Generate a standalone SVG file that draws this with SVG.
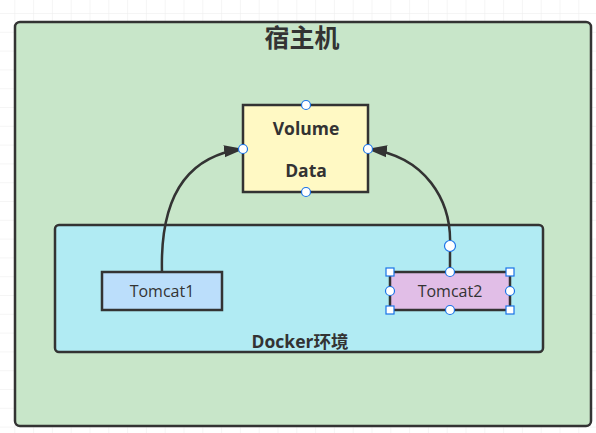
<svg xmlns="http://www.w3.org/2000/svg" width="596" height="433" viewBox="0 0 596 433">
<defs>
<pattern id="grid" x="14.3" y="13" width="18.8" height="18.8" patternUnits="userSpaceOnUse">
<path d="M0,0 H18.8 M0,0 V18.8" fill="none" stroke="#ececec" stroke-width="1"/>
</pattern>
<marker id="arr" viewBox="0 0 20 14" refX="19" refY="7" markerWidth="20" markerHeight="14" markerUnits="userSpaceOnUse" orient="auto">
<path d="M0,1 L20,7 L0,13 Z" fill="#333"/>
</marker>
</defs>
<style>
.box{stroke:#333;stroke-width:2.5}
.lbl{font-family:"Open Sans","Noto Sans CJK SC",sans-serif;fill:#333;text-anchor:middle}
.b{font-weight:bold}
.conn{fill:none;stroke:#333;stroke-width:2.5}
.hc{fill:#fff;stroke:#1a73e8;stroke-width:1.2}
</style>
<rect width="596" height="433" fill="#fff"/>
<rect width="596" height="433" fill="url(#grid)"/>
<g id="host">
<rect class="box" x="15" y="22" width="576" height="404" rx="5" fill="#C8E6C9" stroke-width="3"/>
<text class="lbl b" x="302" y="47" font-size="25">宿主机</text>
</g>
<g id="docker">
<rect class="box" x="55" y="225" width="488" height="127" rx="4" fill="#B1EBF3"/>
<text class="lbl b" x="300" y="348" font-size="17.5">Docker环境</text>
</g>
<g id="volume">
<rect class="box" x="243" y="105" width="125" height="87" fill="#FFF9C4"/>
<text class="lbl b" x="306" y="135" font-size="17.5">Volume</text>
<text class="lbl b" x="306" y="177" font-size="17.5">Data</text>
</g>
<g id="tomcat1">
<rect class="box" x="102" y="272" width="120" height="38" fill="#BBDEFB"/>
<text class="lbl" x="162" y="297" font-size="16">Tomcat1</text>
</g>
<g id="tomcat2">
<rect class="box" x="390" y="272" width="120" height="38" fill="#E1BEE7" stroke="#2d4a66"/>
<text class="lbl" x="450" y="297" font-size="16">Tomcat2</text>
</g>
<g id="connectors">
<path class="conn" d="M162,272 C160,200 185,156 243,149" marker-end="url(#arr)"/>
<path class="conn" d="M450,272 L450,246 C452,200 425,156 368,149" marker-end="url(#arr)"/>
</g>
<g id="handles">
<circle class="hc" cx="306" cy="105" r="4.5"/>
<circle class="hc" cx="243" cy="149" r="4.5"/>
<circle class="hc" cx="368" cy="149" r="4.5"/>
<circle class="hc" cx="306" cy="192" r="4.5"/>
<circle class="hc" cx="450" cy="246" r="5.5" stroke-width="1.5"/>
<circle class="hc" cx="450" cy="272" r="4.5"/>
<circle class="hc" cx="390" cy="291" r="4.5"/>
<circle class="hc" cx="510" cy="291" r="4.5"/>
<circle class="hc" cx="450" cy="310" r="4.5"/>
<rect class="hc" x="386" y="268" width="8" height="8"/>
<rect class="hc" x="506" y="268" width="8" height="8"/>
<rect class="hc" x="386" y="306" width="8" height="8"/>
<rect class="hc" x="506" y="306" width="8" height="8"/>
</g>
</svg>
